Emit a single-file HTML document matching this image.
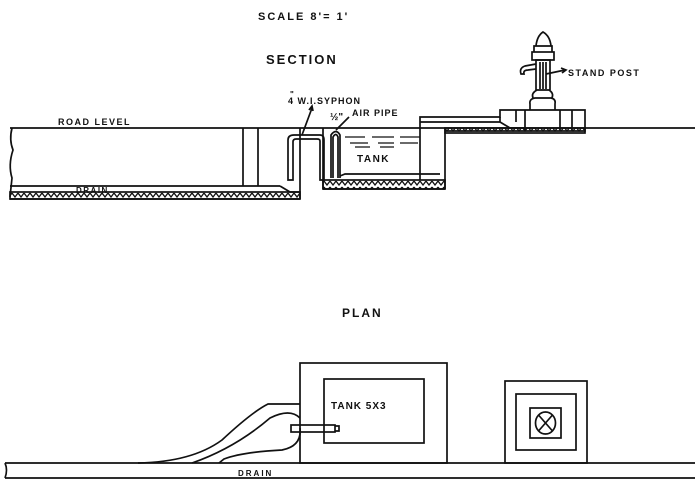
<!DOCTYPE html>
<html><head><style>body{margin:0;background:#fff}svg{display:block}text{font-family:"Liberation Sans",sans-serif;font-weight:bold;fill:#111}</style></head><body>
<svg width="700" height="492" viewBox="0 0 700 492" fill="none" stroke="#111" stroke-width="1.7">
<defs><pattern id="h" width="6" height="6" patternUnits="userSpaceOnUse"><path d="M0 1 L3 5 L6 1" stroke="#111" stroke-width="1.3"/></pattern></defs>
<text x="258" y="20" font-size="11" stroke="none" letter-spacing="2">SCALE 8'= 1'</text>
<text x="266" y="64" font-size="13" stroke="none" letter-spacing="2">SECTION</text>
<text x="342" y="317" font-size="12" stroke="none" letter-spacing="2">PLAN</text>
<!-- road level -->
<line x1="10" y1="128" x2="695" y2="128"/>
<text x="58" y="125" font-size="9" stroke="none" letter-spacing="1.5">ROAD LEVEL</text>
<path d="M12 128 Q9 140 13 150 Q8 165 12 178 L10 197"/>
<line x1="10" y1="186" x2="280" y2="186"/>
<path d="M280 186 L290 192 L300 192"/>
<rect x="10" y="192" width="290" height="7" fill="url(#h)"/>
<line x1="10" y1="199" x2="300" y2="199"/>
<text x="76" y="193" font-size="8" stroke="none" letter-spacing="1.5">DRAIN</text>
<line x1="243" y1="128" x2="243" y2="186"/>
<line x1="258" y1="128" x2="258" y2="186"/>
<line x1="300" y1="128" x2="300" y2="199"/>
<!-- siphon -->
<path d="M288 180 L288 140 Q288 135 294 135 L320 135 Q324 135 324 140 L324 180 L320 180 L320 141 Q320 139 317 139 L296 139 Q293 139 293 142 L293 180 Z"/>
<path d="M331 178 L331 135 Q336 128 340 135 L340 178"/>
<path d="M333 178 L333 137 Q336 132 338 137 L338 178"/>
<text x="288" y="104" font-size="9" stroke="none" letter-spacing="1">4 W.I.SYPHON</text>
<text x="290" y="97" font-size="8" stroke="none">"</text>
<path d="M302 135 L312 108 M309 110 L312 106 L313 111"/>
<text x="330" y="120" font-size="10" stroke="none">½"</text>
<text x="352" y="116" font-size="9" stroke="none" letter-spacing="1">AIR PIPE</text>
<path d="M336 130 L349 117"/>
<!-- tank -->
<line x1="323" y1="128" x2="323" y2="189"/>
<path d="M340 176 L345 174 L440 174"/>
<rect x="323" y="180" width="122" height="9" fill="url(#h)"/>
<line x1="323" y1="189" x2="445" y2="189"/>
<line x1="420" y1="128" x2="420" y2="180"/>
<line x1="445" y1="128" x2="445" y2="189"/>
<path d="M345 137h20M372 137h22M400 137h20M350 143h18M378 143h16M400 143h18M355 147h15M380 147h14" stroke-width="1.2"/>
<text x="357" y="162" font-size="10" stroke="none" letter-spacing="1.5">TANK</text>
<!-- stand post base -->
<path d="M420 128 L420 117 L500 117 L500 110 L585 110 L585 131 L445 131"/>
<line x1="420" y1="122" x2="500" y2="122"/>
<path d="M500 117 L500 122 M516 110 L516 122 M500 122 L510 128 L525 128 M560 110 L560 131 M572 110 L572 131 M525 110 L525 131"/>
<rect x="445" y="128" width="140" height="5" fill="url(#h)"/>
<!-- pump -->
<path d="M530 110 L530 104 Q529 99 535 98 L551 98 Q556 99 555 104 L555 110"/>
<path d="M533 98 Q531 93 537 90 L549 90 Q554 93 552 98"/>
<path d="M536 90 L536 60 L550 60 L550 90"/>
<path d="M540 62 L540 89 M543 62 L543 89 M546 62 L546 89"/>
<rect x="532" y="52" width="22" height="8"/>
<path d="M534 52 L534 46 L552 46 L552 52"/>
<path d="M536 46 Q537 36 543 32 Q550 36 551 46"/>
<path d="M536 64 L525 66 Q519 68 521 74 L524 74 Q523 70 528 70 L536 69"/>
<path d="M546 74 L565 70 M561 68 L566 70 L562 73"/>
<text x="568" y="76" font-size="9" stroke="none" letter-spacing="1.5">STAND POST</text>
<!-- PLAN -->
<path d="M5 463 L695 463 M5 478 L695 478"/>
<path d="M5 463 Q8 470 5 478"/>
<text x="238" y="476" font-size="8" stroke="none" letter-spacing="2">DRAIN</text>
<rect x="300" y="363" width="147" height="100"/>
<rect x="324" y="379" width="100" height="64"/>
<text x="331" y="409" font-size="10" stroke="none" letter-spacing="1">TANK 5X3</text>
<rect x="291" y="425" width="44" height="7"/>
<path d="M335 426 L339 426 L339 431 L335 431"/>
<path d="M300 404 L268 404 Q252 412 222 440 Q192 462 138 463"/>
<path d="M300 418 Q290 408 270 418 Q235 448 192 463"/>
<path d="M300 428 Q302 446 282 450 Q242 452 224 459 L219 463"/>
<rect x="505" y="381" width="82" height="82"/>
<rect x="516" y="394" width="60" height="56"/>
<rect x="530" y="408" width="31" height="30"/>
<ellipse cx="545.5" cy="423" rx="10" ry="11"/>
<path d="M538.5 415 L552.5 431 M552.5 415 L538.5 431"/>
</svg>
</body></html>
